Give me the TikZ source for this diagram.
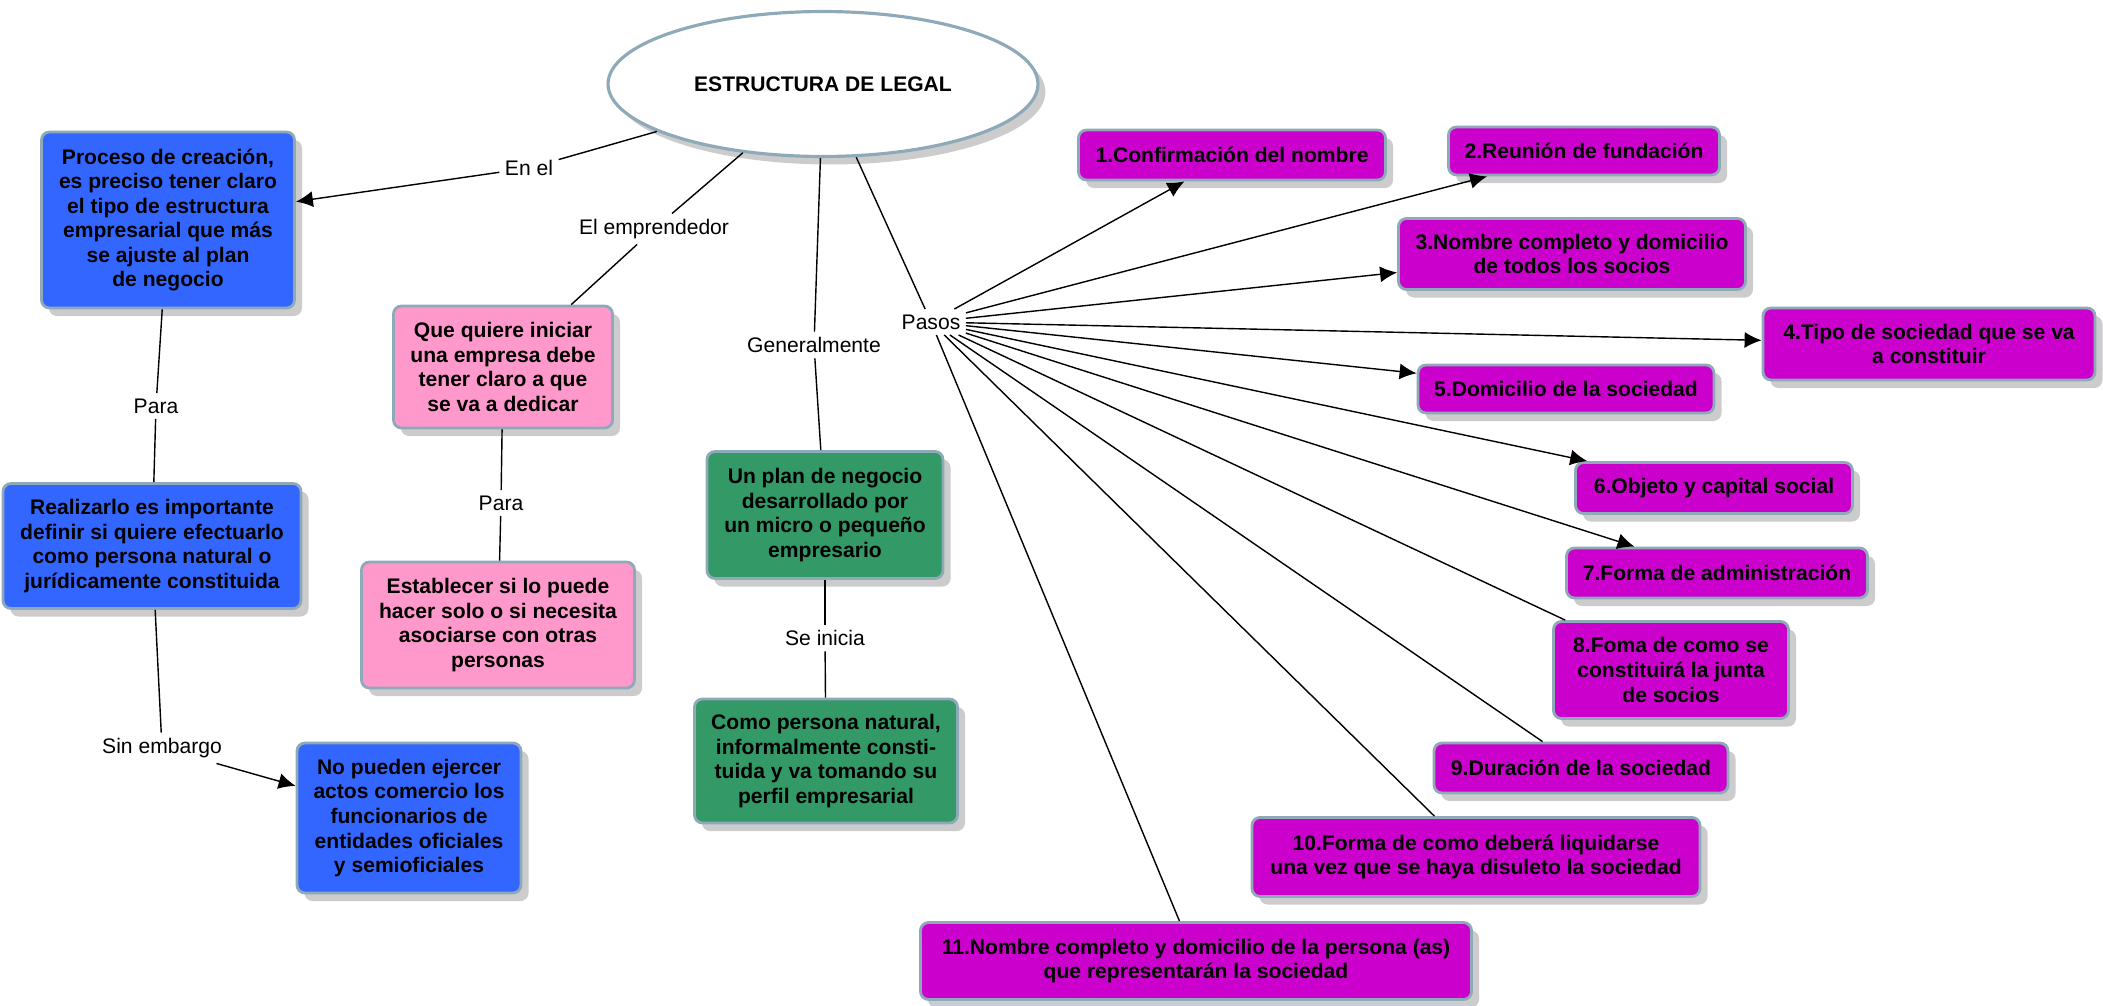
\documentclass[tikz,border=0pt]{standalone}
\usepackage{fontspec}
\setmainfont{Liberation Sans}
\usetikzlibrary{shapes.geometric, shadows, arrows.meta}

\definecolor{blueBox}{HTML}{3366FF}
\definecolor{pinkBox}{HTML}{FF99CC}
\definecolor{greenBox}{HTML}{339966}
\definecolor{purpleBox}{HTML}{CC00CC}
\definecolor{rim}{HTML}{8EA9B7}
\definecolor{shade}{HTML}{CCCCCC}

\tikzset{
	concept/.style={draw=rim, line width=1.6pt, rounded corners=0.16cm, align=center, inner sep=2pt,
		font=\fontsize{12}{14}\selectfont\bfseries,
		drop shadow={shadow xshift=0.15cm, shadow yshift=-0.16cm, fill=shade, opacity=1}},
	root/.style={concept, ellipse, fill=white, line width=1.8pt},
	linkLabel/.style={inner sep=3pt, font=\fontsize{12}{14}\selectfont},
	connector/.style={line width=0.8pt},
	arrowed/.style={connector, -{Latex[length=0.34cm, width=0.32cm]}},
}

\newcommand{\concept}[7][purpleBox]{
	\node[concept, fill=#1, minimum width=#5*0.02cm, minimum height=#6*0.02cm] (#4) at (#2, #3) {#7};
}
\newcommand{\phrase}[4]{
	\node[linkLabel] (#3) at (#1, #2) {#4};
}
\newcommand{\connect}[3][connector]{
	\draw[#1] (#2) -- (#3);
}

\begin{document}
\begin{tikzpicture}[x=0.02cm, y=-0.02cm]
	\useasboundingbox (0, 0) rectangle (2103, 1005);

	\node[root, minimum width=8.6cm, minimum height=2.9cm] (root) at (823, 84) {ESTRUCTURA DE LEGAL};

	\concept[blueBox]{168}{220}{proceso}{253}{176}{Proceso de creación,\\ es preciso tener claro\\ el tipo de estructura\\ empresarial que más\\ se ajuste al plan\\ de negocio};
	\concept[blueBox]{152}{546}{realizarlo}{298}{125}{Realizarlo es importante\\ definir si quiere efectuarlo\\ como persona natural o\\ jurídicamente constituida};
	\concept[blueBox]{409}{818}{noPueden}{224}{150}{No pueden ejercer\\ actos comercio los\\ funcionarios de\\ entidades oficiales\\ y semioficiales};
	\concept[pinkBox]{503}{367}{quiere}{219}{122}{Que quiere iniciar\\ una empresa debe\\ tener claro a que\\ se va a dedicar};
	\concept[pinkBox]{498}{625}{establecer}{273}{126}{Establecer si lo puede\\ hacer solo o si necesita\\ asociarse con otras\\ personas};
	\concept[greenBox]{825}{515}{plan}{236}{127}{Un plan de negocio\\ desarrollado por\\ un micro o pequeño\\ empresario};
	\concept[greenBox]{826}{761}{natural}{263}{124}{Como persona natural,\\ informalmente consti-\\ tuida y va tomando su\\ perfil empresarial};

	\concept{1232}{155}{P1}{307}{50}{1.Confirmación del nombre};
	\concept{1584}{151}{P2}{271}{48}{2.Reunión de fundación};
	\concept{1572}{254}{P3}{347}{71}{3.Nombre completo y domicilio\\ de todos los socios};
	\concept{1929}{344}{P4}{332}{72}{4.Tipo de sociedad que se va\\ a constituir};
	\concept{1566}{389}{P5}{296}{48}{5.Domicilio de la sociedad};
	\concept{1714}{488}{P6}{277}{51}{6.Objeto y capital social};
	\concept{1717}{573}{P7}{301}{50}{7.Forma de administración};
	\concept{1671}{670}{P8}{235}{97}{8.Foma de como se\\ constituirá la junta\\ de socios};
	\concept{1581}{768}{P9}{294}{50}{9.Duración de la sociedad};
	\concept{1476}{857}{P10}{448}{79}{10.Forma de como deberá liquidarse\\ una vez que se haya disuleto la sociedad};
	\concept{1196}{961}{P11}{551}{77}{11.Nombre completo y domicilio de la persona (as)\\ que representarán la sociedad};

	\phrase{529}{168}{enEl}{En el};
	\phrase{654}{229}{emprendedor}{El emprendedor};
	\phrase{814}{345}{generalmente}{Generalmente};
	\phrase{931}{322}{pasos}{Pasos};
	\phrase{156}{406}{paraA}{Para};
	\phrase{501}{503}{paraB}{Para};
	\phrase{162}{748}{sinEmbargo}{Sin embargo};
	\phrase{825}{638}{seInicia}{Se inicia};

	\connect{root}{enEl};
	\connect[arrowed]{enEl}{proceso};
	\connect{root}{emprendedor};
	\connect{emprendedor}{quiere};
	\connect{root}{generalmente};
	\connect{generalmente}{plan};
	\connect{root}{pasos};

	\connect{proceso}{paraA};
	\connect{paraA}{realizarlo};
	\connect{realizarlo}{sinEmbargo};
	\connect[arrowed]{sinEmbargo}{noPueden};
	\connect{quiere}{paraB};
	\connect{paraB}{establecer};
	\connect{plan}{seInicia};
	\connect{seInicia}{natural};

	\foreach \step in {1,...,7} {
		\connect[arrowed]{pasos}{P\step};
	}
	\foreach \step in {8,...,11} {
		\connect{pasos}{P\step};
	}
\end{tikzpicture}
\end{document}
